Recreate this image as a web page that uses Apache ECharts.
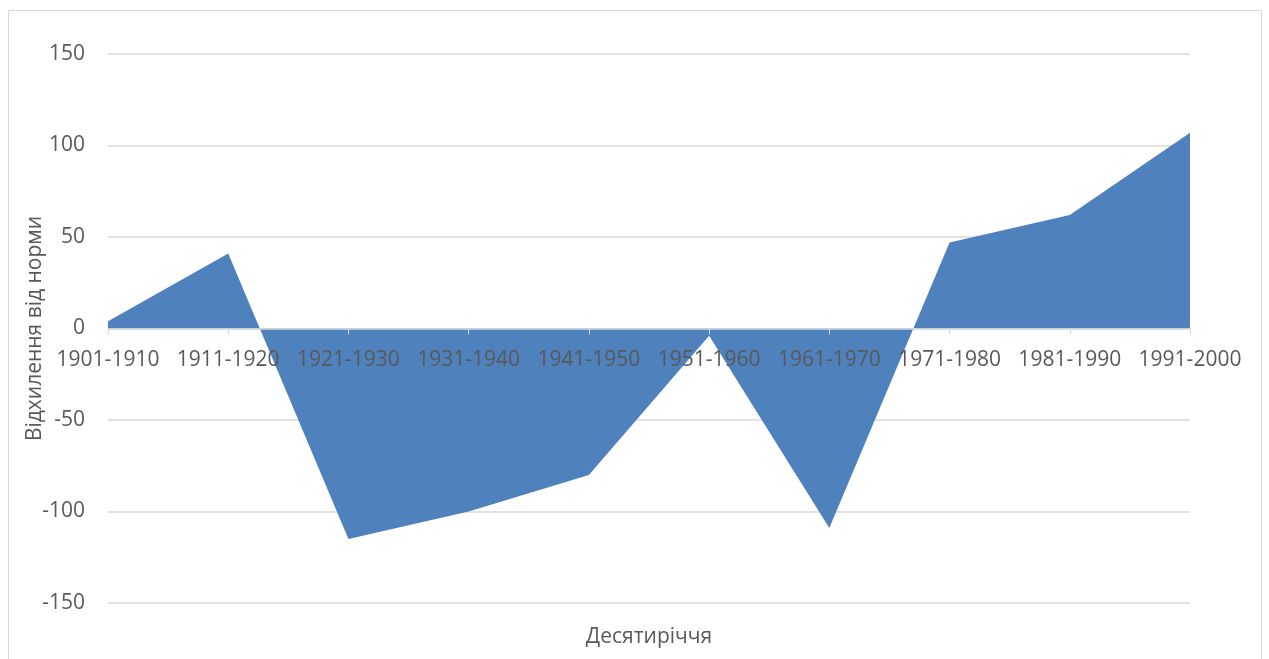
<!DOCTYPE html>
<html>
<head>
<meta charset="utf-8">
<script src="https://cdn.jsdelivr.net/npm/echarts@6/dist/echarts.min.js"></script>
<style>
  html, body { margin: 0; padding: 0; background: #fff; }
  #chart_container { width: 1269px; height: 659px; }
</style>
</head>
<body>
<div id="chart_container"></div>
<script>
// decades and deviation from the norm
var decades = ['1901-1910', '1911-1920', '1921-1930', '1931-1940', '1941-1950',
               '1951-1960', '1961-1970', '1971-1980', '1981-1990', '1991-2000'];
var deviation = [4, 41, -115, -100, -80, -4, -109, 47, 62, 107];

var yTicks = { min: -150, max: 150, step: 50 };

var xName = 'Десятиріччя';
var yName = 'Відхилення від норми';

var font = '"Open Sans", "Noto Sans", sans-serif';
var grey = '#595959';
var fs = 21;

var myChart = echarts.init(document.getElementById('chart_container'));

var opt = {
    animation: false,
    grid: {
        left: 108,
        right: 79,
        top: 54,
        bottom: 56,
    },
    graphic: [
        {
            // outer chart border
            type: 'rect',
            shape: { x: 8.5, y: 10.5, width: 1253, height: 700 },
            style: { fill: 'none', stroke: '#d9d9d9', lineWidth: 1 },
            silent: true,
        },
        {
            type: 'text',
            style: {
                text: xName,
                x: 649,
                y: 637,
                align: 'center',
                verticalAlign: 'middle',
                fill: grey,
                font: fs + 'px ' + font,
            },
        },
    ],
    xAxis: {
        type: 'category',
        data: decades,
        boundaryGap: false,
        position: 'bottom',
        offset: 0,
        z: 3,
        axisLine: { onZero: false, lineStyle: { color: '#d9d9d9', width: 1.5 } },
        axisTick: { show: true, length: 6, lineStyle: { color: '#d9d9d9' } },
        axisLabel: {
            color: grey,
            fontSize: fs,
            fontFamily: font,
            margin: 21,
            interval: 0,
        },
        splitLine: { show: false },
    },
    yAxis: {
        type: 'value',
        min: yTicks.min,
        max: yTicks.max,
        interval: yTicks.step,
        name: yName,
        nameLocation: 'middle',
        nameGap: 62,
        nameMoveOverlap: false,
        nameTextStyle: { color: grey, fontSize: fs, fontFamily: font },
        axisLine: { show: false },
        axisTick: { show: false },
        axisLabel: { color: grey, fontSize: fs, fontFamily: font, margin: 23 },
        splitLine: { lineStyle: { color: '#d9d9d9', width: 1.5 } },
    },
    series: [
        {
            name: 'deviation',
            type: 'line',
            data: deviation,
            symbol: 'none',
            lineStyle: { width: 0 },
            areaStyle: { color: '#4f81bd', opacity: 1 },
            z: 2,
        },
    ],
};

myChart.setOption(opt);

// move the category axis (line, ticks, labels) up to the zero line
var zeroY = myChart.convertToPixel({ yAxisIndex: 0 }, 0);
var bottomY = myChart.convertToPixel({ yAxisIndex: 0 }, yTicks.min);
myChart.setOption({ xAxis: { offset: zeroY - bottomY } });
</script>
</body>
</html>
